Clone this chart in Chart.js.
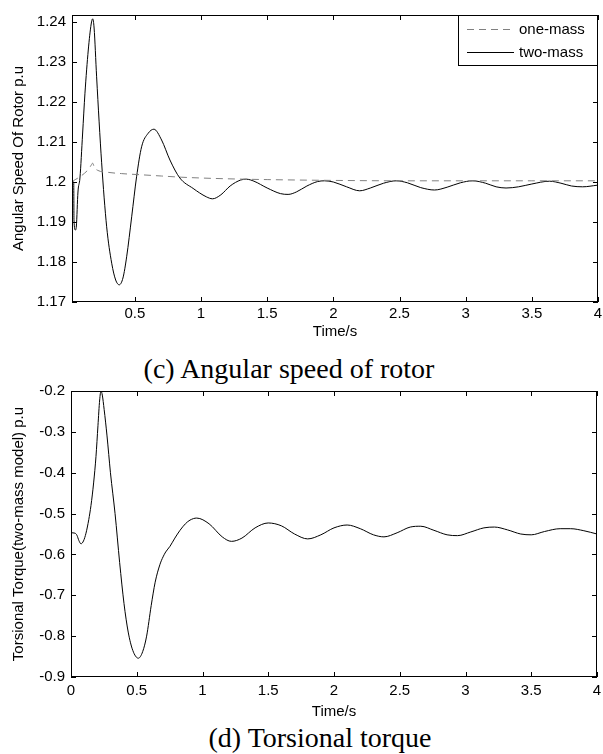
<!DOCTYPE html>
<html>
<head>
<meta charset="utf-8">
<script src="https://cdn.jsdelivr.net/npm/chart.js@4.4.1/dist/chart.umd.min.js"></script>
<style>
  html, body { margin: 0; padding: 0; background: #fff; }
  body { width: 603px; height: 754px; position: relative; overflow: hidden; }
  .wrap { position: absolute; left: 0; width: 603px; }
  .caption {
    position: absolute; width: 600px; text-align: center; white-space: nowrap;
    font-family: "Liberation Serif", "Times New Roman", serif;
    font-size: 28px; line-height: 1; color: #000;
  }
</style>
</head>
<body>
<div class="wrap" style="top:0;height:342px"><canvas id="speed-chart" width="603" height="342"></canvas></div>
<div class="caption" style="top:355px;left:-11px">(c) Angular speed of rotor</div>
<div class="wrap" style="top:360px;height:362px"><canvas id="torque-chart" width="603" height="362"></canvas></div>
<div class="caption" style="top:724px;left:20px">(d) Torsional torque</div>

<script>
// --- Data: (c) angular speed of rotor ---
const twoMassTime = [0.025, 0.038, 0.040, 0.050, 0.058, 0.070, 0.085, 0.105, 0.123, 0.148, 0.170, 0.181, 0.192,
  0.211, 0.249, 0.287, 0.325, 0.355, 0.382, 0.410, 0.438, 0.476, 0.513, 0.551, 0.601, 0.644, 0.702, 0.765,
  0.840, 0.940, 1.040, 1.087, 1.15, 1.22, 1.30, 1.343, 1.40, 1.50, 1.60, 1.658, 1.72, 1.80, 1.88, 1.934,
  2.00, 2.10, 2.199, 2.28, 2.38, 2.476, 2.56, 2.66, 2.765, 2.86, 2.96, 3.054, 3.15, 3.23, 3.305, 3.40,
  3.50, 3.633, 3.72, 3.80, 3.884, 3.995];
const twoMassSpeed = [1.2000, 1.2000, 1.1905, 1.1880, 1.1890, 1.1975, 1.2010, 1.2120, 1.2222, 1.2330, 1.2395, 1.2408, 1.2385,
  1.2263, 1.2048, 1.1888, 1.1797, 1.1755, 1.1743, 1.1760, 1.1813, 1.1913, 1.2013, 1.2088, 1.2122, 1.2132, 1.2105, 1.2055,
  1.2010, 1.1984, 1.1963, 1.1958, 1.1968, 1.1990, 1.2005, 1.2007, 1.2002, 1.1985, 1.1971, 1.1969, 1.1975, 1.1990, 1.2001, 1.2003,
  1.2000, 1.1988, 1.1978, 1.1985, 1.1997, 1.2003, 1.1998, 1.1986, 1.1980, 1.1987, 1.1998, 1.2003, 1.1997, 1.1988, 1.1985, 1.1988,
  1.1995, 1.2002, 1.1997, 1.1990, 1.1988, 1.1992];
const oneMassTime = [0.025, 0.040, 0.080, 0.120, 0.150, 0.170, 0.181, 0.195, 0.220, 0.30, 0.40, 0.55, 0.70, 0.85,
  1.0, 1.2, 1.5, 2.0, 2.5, 3.0, 3.5, 4.0];
const oneMassSpeed = [1.2000, 1.2004, 1.2012, 1.2022, 1.2032, 1.2042, 1.2047, 1.2036, 1.2029, 1.2024, 1.2021, 1.2018, 1.2015, 1.2012,
  1.2010, 1.2008, 1.2006, 1.2004, 1.2003, 1.2003, 1.2003, 1.2003];
const speedXTicks = [0.5, 1, 1.5, 2, 2.5, 3, 3.5, 4];
const speedYTicks = [1.17, 1.18, 1.19, 1.2, 1.21, 1.22, 1.23, 1.24];

// --- Data: (d) torsional torque ---
const torqueTime = [0, 0.03, 0.045, 0.06, 0.076, 0.095, 0.114, 0.135, 0.152, 0.172, 0.19, 0.205, 0.218, 0.228, 0.238,
  0.252, 0.274, 0.30, 0.335, 0.37, 0.403, 0.435, 0.47, 0.512, 0.545, 0.575, 0.61, 0.64, 0.677, 0.70, 0.72,
  0.753, 0.79, 0.829, 0.87, 0.905, 0.956,
  1.05, 1.15, 1.22, 1.30, 1.40, 1.50, 1.60, 1.70, 1.80, 1.90, 2.00, 2.10, 2.20, 2.30, 2.38, 2.48, 2.58,
  2.66, 2.76, 2.86, 2.94, 3.04, 3.14, 3.22, 3.32, 3.42, 3.50, 3.60, 3.72, 3.80, 3.90, 4.00];
const torqueValue = [-0.547, -0.548, -0.553, -0.566, -0.574, -0.567, -0.548, -0.515, -0.480, -0.425, -0.360, -0.285, -0.222, -0.200, -0.210,
  -0.245, -0.310, -0.400, -0.500, -0.620, -0.720, -0.790, -0.835, -0.854, -0.838, -0.800, -0.725, -0.668, -0.624, -0.606, -0.594,
  -0.580, -0.560, -0.541, -0.525, -0.516, -0.511,
  -0.525, -0.557, -0.568, -0.560, -0.535, -0.523, -0.530, -0.550, -0.562, -0.552, -0.535, -0.528, -0.537, -0.552, -0.557, -0.547, -0.533,
  -0.531, -0.541, -0.552, -0.554, -0.545, -0.535, -0.533, -0.540, -0.550, -0.552, -0.544, -0.537, -0.537, -0.542, -0.550];
const torqueXTicks = [0, 0.5, 1, 1.5, 2, 2.5, 3, 3.5, 4];
const torqueYTicks = [-0.9, -0.8, -0.7, -0.6, -0.5, -0.4, -0.3, -0.2];

const FONT = '"Liberation Sans", Arial, sans-serif';
const toPoints = (xs, ys) => xs.map((x, i) => ({ x: x, y: ys[i] }));
const trimNum = (v, d) => String(parseFloat(Number(v).toFixed(d)));

// box + inward ticks on all four sides, like a matlab axes
const framePlugin = {
  id: 'frame',
  afterDatasetsDraw(chart) {
    const { ctx, chartArea: a, scales: { x, y } } = chart;
    ctx.save();
    ctx.strokeStyle = '#000';
    ctx.lineWidth = 1;
    ctx.beginPath();
    x.ticks.forEach(t => {
      const px = Math.round(x.getPixelForValue(t.value)) + 0.5;
      ctx.moveTo(px, a.bottom); ctx.lineTo(px, a.bottom - 5);
      ctx.moveTo(px, a.top); ctx.lineTo(px, a.top + 5);
    });
    y.ticks.forEach(t => {
      const py = Math.round(y.getPixelForValue(t.value)) + 0.5;
      ctx.moveTo(a.left, py); ctx.lineTo(a.left + 5, py);
      ctx.moveTo(a.right, py); ctx.lineTo(a.right - 5, py);
    });
    ctx.stroke();
    ctx.strokeRect(a.left + 0.5, a.top + 0.5, a.width - 1, a.height - 1);
    ctx.restore();
  }
};

// legend drawn inside the top right corner of the plot, with a frame
const boxLegendPlugin = {
  id: 'boxLegend',
  afterDraw(chart, args, opts) {
    if (!opts.show) return;
    const { ctx, chartArea: a } = chart;
    const w = 140, h = 51;
    const bx = a.right - w, by = a.top;
    ctx.save();
    ctx.fillStyle = '#fff';
    ctx.fillRect(bx, by, w, h);
    ctx.strokeStyle = '#000';
    ctx.lineWidth = 1;
    ctx.strokeRect(bx + 0.5, by + 0.5, w - 1, h - 1);
    ctx.font = '15px ' + FONT;
    ctx.textBaseline = 'middle';
    ctx.fillStyle = '#000';
    chart.data.datasets.forEach((ds, i) => {
      const ry = Math.round(by + 14 + i * 23) + 0.5;
      ctx.beginPath();
      ctx.setLineDash(ds.borderDash || []);
      ctx.strokeStyle = ds.borderColor;
      ctx.moveTo(bx + 9, ry);
      ctx.lineTo(bx + 56, ry);
      ctx.stroke();
      ctx.setLineDash([]);
      ctx.fillText(ds.label, bx + 61, ry);
    });
    ctx.restore();
  }
};

function axisOptions(opts) {
  return {
    type: 'linear',
    min: opts.min,
    max: opts.max,
    grid: { display: false, drawTicks: false },
    border: { display: false },
    title: {
      display: !!opts.title,
      text: opts.title,
      color: '#000',
      font: { family: FONT, size: 15 },
      padding: opts.titlePadding
    },
    ticks: {
      color: '#000',
      font: { family: FONT, size: 15 },
      padding: opts.tickPadding,
      autoSkip: false,
      maxRotation: 0,
      callback: v => trimNum(v, opts.digits)
    },
    afterBuildTicks: s => { s.ticks = opts.tickValues.map(v => ({ value: v })); },
    afterFit: s => {
      if (opts.width) s.width = opts.width;
      if (opts.height) s.height = opts.height;
      s.paddingLeft = 0; s.paddingRight = 0; s.paddingTop = 0; s.paddingBottom = 0;
    }
  };
}

function lineDataset(label, xs, ys, color, dash) {
  return {
    label: label,
    data: toPoints(xs, ys),
    borderColor: color,
    borderWidth: 1,
    borderDash: dash,
    pointRadius: 0,
    fill: false,
    cubicInterpolationMode: 'monotone'
  };
}

// --- (c) Angular speed ---
new Chart(document.getElementById('speed-chart'), {
  type: 'line',
  data: {
    datasets: [
      lineDataset('one-mass', oneMassTime, oneMassSpeed, '#808080', [7, 5]),
      lineDataset('two-mass', twoMassTime, twoMassSpeed, '#000', [])
    ]
  },
  options: {
    responsive: false,
    animation: false,
    devicePixelRatio: 1,
    layout: { padding: { left: 0, top: 15, right: 5, bottom: 0 } },
    plugins: { legend: { display: false }, tooltip: { enabled: false }, boxLegend: { show: true } },
    scales: {
      x: axisOptions({ min: 0.025, max: 4, tickValues: speedXTicks, digits: 1, title: 'Time/s',
        titlePadding: { top: 0, bottom: 1 }, tickPadding: 3, height: 40 }),
      y: axisOptions({ min: 1.17, max: 1.24175, tickValues: speedYTicks, digits: 2, title: 'Angular Speed Of Rotor p.u',
        titlePadding: { top: 10, bottom: 0 }, tickPadding: 6, width: 72 })
    }
  },
  plugins: [framePlugin, boxLegendPlugin]
});

// --- (d) Torsional torque ---
new Chart(document.getElementById('torque-chart'), {
  type: 'line',
  data: {
    datasets: [
      lineDataset('torque', torqueTime, torqueValue, '#000', [])
    ]
  },
  options: {
    responsive: false,
    animation: false,
    devicePixelRatio: 1,
    layout: { padding: { left: 0, top: 31, right: 6, bottom: 0 } },
    plugins: { legend: { display: false }, tooltip: { enabled: false }, boxLegend: { show: false } },
    scales: {
      x: axisOptions({ min: 0, max: 4, tickValues: torqueXTicks, digits: 1, title: 'Time/s',
        titlePadding: { top: 0, bottom: 1 }, tickPadding: 5, height: 45 }),
      y: axisOptions({ min: -0.9, max: -0.2, tickValues: torqueYTicks, digits: 1, title: 'Torsional Torque(two-mass model) p.u',
        titlePadding: { top: 10, bottom: 0 }, tickPadding: 6, width: 71 })
    }
  },
  plugins: [framePlugin, boxLegendPlugin]
});
</script>
</body>
</html>
